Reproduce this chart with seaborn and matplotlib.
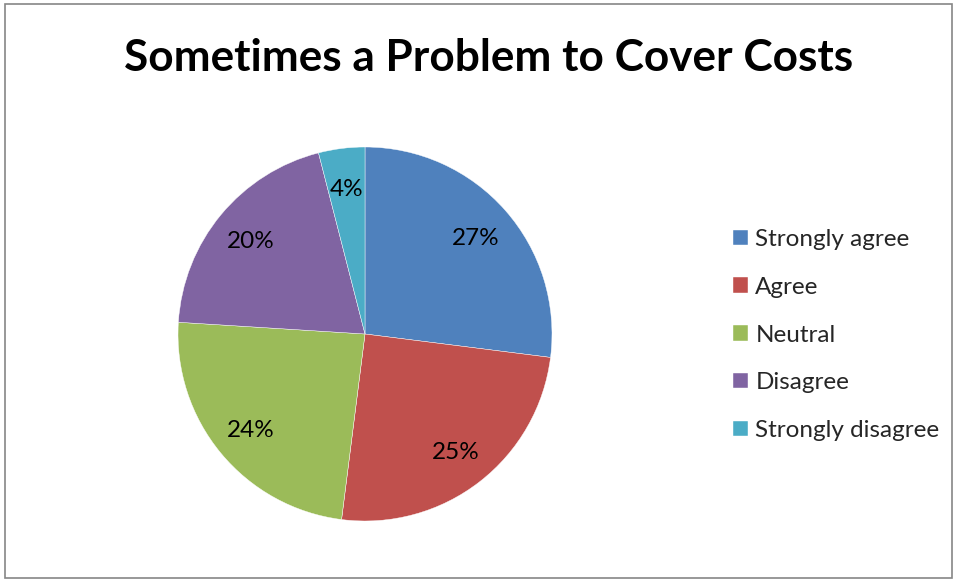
import matplotlib
matplotlib.use("Agg")
import matplotlib.pyplot as plt
import seaborn as sns
from matplotlib.patches import Rectangle

categories = ["Strongly agree", "Agree", "Neutral", "Disagree", "Strongly disagree"]
values = [27, 25, 24, 20, 4]
colors = ["#4F81BD", "#C0504D", "#9BBB59", "#8064A2", "#4BACC6"]
title = "Sometimes a Problem to Cover Costs"

sns.set_theme(style="white")
plt.rcParams['font.family'] = ['Lato', 'DejaVu Sans']

W, H = 958, 581
fig = plt.figure(figsize=(W / 100, H / 100), dpi=100)
fig.patch.set_facecolor("white")

cx, cy, r = 365, 334, 187
ax = fig.add_axes([(cx - r) / W, (H - cy - r) / H, 2 * r / W, 2 * r / H])
wedges, texts = ax.pie(values, colors=colors, startangle=90, counterclock=False,
                       labels=[f"{v}%" for v in values], labeldistance=0.79,
                       wedgeprops=dict(linewidth=0.3, edgecolor="white"),
                       textprops=dict(fontsize=17.5, color="black", ha="center",
                                      va="center_baseline"))
ax.set_aspect("equal")
ax.set_xlim(-1, 1)
ax.set_ylim(-1, 1)
ax.axis("off")

fig.text(489 / W, 1 - 58 / H, title, ha="center", va="center",
         fontsize=31.8, fontweight="bold", color="black")

leg = fig.legend(wedges, categories, loc="center left",
                 bbox_to_anchor=(733 / W, 1 - 335 / H), frameon=False,
                 fontsize=17.5, handlelength=0.62, handleheight=0.6,
                 handletextpad=0.3, labelspacing=1.1, borderpad=0,
                 borderaxespad=0)

fig.add_artist(Rectangle((4.5 / W, 3.5 / H), (952 - 4.5) / W, (577 - 3.5) / H,
                         transform=fig.transFigure, fill=False,
                         edgecolor="#868686", linewidth=1.2))

fig.savefig("out.png", dpi=100)
